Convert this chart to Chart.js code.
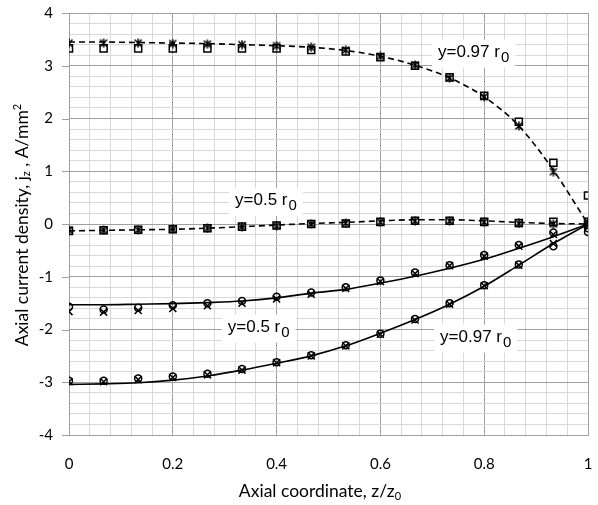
<!DOCTYPE html>
<html><head><meta charset="utf-8">
<script src="https://cdn.jsdelivr.net/npm/chart.js@4/dist/chart.umd.min.js"></script>
<style>html,body{margin:0;padding:0;background:#fff;}</style>
</head><body>
<canvas id="c" width="598" height="505"></canvas>
<script>
// ---------- data ----------
const zValues = [0, 0.0667, 0.1333, 0.2, 0.2667, 0.3333, 0.4, 0.4667, 0.5333, 0.6, 0.6667, 0.7333, 0.8, 0.8667, 0.9333, 1];

// y = 0.97 r0, upper (dashed) branch
const topCurve   = [3.45, 3.45, 3.44, 3.43, 3.42, 3.40, 3.38, 3.35, 3.29, 3.18, 3.01, 2.77, 2.41, 1.86, 1.02, 0.00];
const topSquares = [3.33, 3.33, 3.33, 3.33, 3.33, 3.33, 3.33, 3.30, 3.27, 3.16, 3.00, 2.78, 2.43, 1.94, 1.16, 0.54];
const topStars   = [3.43, 3.43, 3.43, 3.42, 3.41, 3.40, 3.38, 3.35, 3.30, 3.18, 3.01, 2.77, 2.41, 1.86, 0.99, 0.03];

// y = 0.5 r0, upper (dashed) branch
const midCurve   = [-0.13, -0.12, -0.11, -0.10, -0.08, -0.05, -0.02, 0.01, 0.03, 0.06, 0.08, 0.08, 0.06, 0.03, 0.01, 0.00];
const midSquares = [-0.13, -0.12, -0.11, -0.10, -0.08, -0.05, -0.03, 0.00, 0.01, 0.04, 0.06, 0.06, 0.04, 0.02, 0.04, 0.04];
const midStars   = [-0.12, -0.12, -0.11, -0.10, -0.08, -0.05, -0.03, 0.00, 0.02, 0.04, 0.06, 0.06, 0.04, 0.01, 0.00, 0.02];

// y = 0.5 r0, lower (solid) branch
const low05Curve   = [-1.53, -1.53, -1.52, -1.51, -1.49, -1.46, -1.40, -1.31, -1.24, -1.12, -0.99, -0.84, -0.67, -0.46, -0.24, 0.00];
const low05Circles = [-1.57, -1.62, -1.59, -1.54, -1.50, -1.46, -1.38, -1.30, -1.20, -1.07, -0.92, -0.78, -0.59, -0.40, -0.16, -0.08];
const low05Crosses = [-1.66, -1.67, -1.64, -1.60, -1.55, -1.50, -1.42, -1.33, -1.22, -1.09, -0.94, -0.79, -0.61, -0.42, -0.20, -0.03];

// y = 0.97 r0, lower (solid) branch
const low97Curve   = [-3.04, -3.03, -3.01, -2.96, -2.88, -2.77, -2.64, -2.50, -2.31, -2.07, -1.81, -1.52, -1.18, -0.78, -0.37, 0.00];
const low97Circles = [-2.97, -2.97, -2.93, -2.89, -2.84, -2.75, -2.62, -2.49, -2.30, -2.08, -1.80, -1.50, -1.16, -0.77, -0.42, -0.15];
const low97Crosses = [-2.99, -2.99, -2.95, -2.91, -2.86, -2.77, -2.63, -2.50, -2.31, -2.09, -1.82, -1.52, -1.17, -0.78, -0.37, -0.02];

const xTickLabels = ['0', '0.2', '0.4', '0.6', '0.8', '1'];
const yTickLabels = ['-4', '-3', '-2', '-1', '0', '1', '2', '3', '4'];

const curveLabels = [
  {x: 0.711, y: 3.17,  main: 'y=0.97 r', sub: '0'},
  {x: 0.320, y: 0.36,  main: 'y=0.5 r',  sub: '0'},
  {x: 0.306, y: -2.04, main: 'y=0.5 r',  sub: '0'},
  {x: 0.715, y: -2.23, main: 'y=0.97 r', sub: '0'}
];

// ---------- helpers ----------
function pts(ys) { return zValues.map((z, i) => ({x: z, y: ys[i]})); }

function makeStar() {
  const c = document.createElement('canvas');
  c.width = 10; c.height = 10;
  const g = c.getContext('2d');
  g.strokeStyle = '#000'; g.lineWidth = 1.5;
  g.beginPath();
  g.moveTo(1.5, 1.5); g.lineTo(8.5, 8.5);
  g.moveTo(8.5, 1.5); g.lineTo(1.5, 8.5);
  g.moveTo(5, 0.5); g.lineTo(5, 9.5);
  g.stroke();
  return c;
}
const starImg = makeStar();

function curve(ys, dashed) {
  return {data: pts(ys), borderColor: '#000', borderWidth: 1.6, borderDash: dashed ? [6, 4] : [],
          pointRadius: 0, cubicInterpolationMode: 'monotone', fill: false, showLine: true, order: 2};
}
function markers(ys, style, r) {
  return {data: pts(ys), showLine: false, pointStyle: style, pointRadius: r,
          pointBorderColor: '#000', pointBackgroundColor: 'rgba(0,0,0,0)', pointBorderWidth: 1.5, order: 1};
}

const isInt = v => Math.abs(v - Math.round(v)) < 1e-6;
const isFifth = v => Math.abs(v * 5 - Math.round(v * 5)) < 1e-6;

const MAJOR = '#a0a0a0', MINOR = '#d9d9d9';
const TICK_FONT = {family: 'Lato', size: 15};

function drawRuns(ctx, runs, x, y) {
  let total = 0;
  runs.forEach(r => { ctx.font = r.size + 'px ' + r.family; r.w = ctx.measureText(r.t).width; total += r.w; });
  let cx = x - total / 2;
  runs.forEach(r => { ctx.font = r.size + 'px ' + r.family; ctx.fillText(r.t, cx, y + (r.dy || 0)); cx += r.w; });
}

const textPlugin = {
  id: 'texts',
  afterDraw(chart) {
    const ctx = chart.ctx, xs = chart.scales.x, ys = chart.scales.y;
    ctx.save();
    // y tick marks at integer values
    ctx.strokeStyle = MAJOR; ctx.lineWidth = 1;
    ys.ticks.forEach(t => {
      if (!isInt(t.value)) return;
      const py = Math.round(ys.getPixelForValue(t.value)) + 0.5;
      ctx.beginPath(); ctx.moveTo(xs.left - 7, py); ctx.lineTo(xs.left, py); ctx.stroke();
    });
    // curve labels with white boxes
    curveLabels.forEach(l => {
      const px = xs.getPixelForValue(l.x), py = ys.getPixelForValue(l.y);
      ctx.font = '17px "Liberation Sans"';
      const w1 = ctx.measureText(l.main).width;
      ctx.font = '15px "Liberation Sans"';
      const w2 = ctx.measureText(l.sub).width;
      ctx.fillStyle = '#fff';
      ctx.fillRect(px - 6, py - 17, w1 + w2 + 13, 28);
      ctx.fillStyle = '#000';
      ctx.textBaseline = 'alphabetic';
      ctx.font = '17px "Liberation Sans"';
      ctx.fillText(l.main, px, py);
      ctx.font = '15px "Liberation Sans"';
      ctx.fillText(l.sub, px + w1 + 1, py + 5);
    });
    // x axis title
    ctx.fillStyle = '#000';
    ctx.textBaseline = 'alphabetic';
    drawRuns(ctx, [
      {t: 'Axial coordinate, z/z', size: 17.5, family: 'Lato'},
      {t: '0', size: 11, family: 'Lato', dy: 3}
    ], 320, 497);
    // y axis title
    ctx.translate(22, 225);
    ctx.rotate(-Math.PI / 2);
    ctx.textBaseline = 'middle';
    drawRuns(ctx, [
      {t: 'Axial current density, j', size: 17.5, family: 'Lato'},
      {t: 'z', size: 11, family: 'Lato', dy: 4},
      {t: ' , A/mm', size: 17.5, family: 'Lato'},
      {t: '2', size: 11, family: 'Lato', dy: -5}
    ], 0, 0);
    ctx.restore();
  }
};

new Chart(document.getElementById('c'), {
  type: 'scatter',
  data: {
    datasets: [
      markers(topSquares, 'rect', 5),
      markers(topStars, starImg, 5),
      markers(midSquares, 'rect', 5),
      markers(midStars, starImg, 5),
      markers(low05Circles, 'circle', 3.5),
      markers(low05Crosses, 'crossRot', 5),
      markers(low97Circles, 'circle', 3.5),
      markers(low97Crosses, 'crossRot', 5),
      curve(topCurve, true),
      curve(midCurve, true),
      curve(low05Curve, false),
      curve(low97Curve, false)
    ]
  },
  options: {
    responsive: false,
    animation: false,
    devicePixelRatio: 1,
    layout: {padding: {left: 0, right: 10, top: 13, bottom: 0}},
    plugins: {legend: {display: false}, tooltip: {enabled: false}},
    scales: {
      x: {
        type: 'linear', min: 0, max: 1,
        afterFit(s) { s.height = 70; },
        ticks: {
          stepSize: 0.04, autoSkip: false, maxRotation: 0, padding: 0,
          color: '#000', font: TICK_FONT,
          callback(v) {
            if (!isFifth(v)) return '';
            return xTickLabels[Math.round(v * 5)];
          }
        },
        grid: {drawTicks: true, tickLength: 20, tickColor: 'rgba(0,0,0,0)',
               color: c => isFifth(c.tick.value) ? MAJOR : MINOR, lineWidth: 1},
        border: {color: MAJOR, width: 1}
      },
      y: {
        min: -4, max: 4,
        afterFit(s) { s.width = 69; },
        ticks: {
          stepSize: 0.2, autoSkip: false, padding: 0,
          color: '#000', font: TICK_FONT,
          callback(v) {
            if (!isInt(v)) return '';
            return yTickLabels[Math.round(v) + 4];
          }
        },
        grid: {
          drawTicks: true, tickLength: 16, tickColor: 'rgba(0,0,0,0)',
          color: c => isInt(c.tick.value) ? MAJOR : MINOR,
          lineWidth: 1
        },
        border: {color: MAJOR, width: 1}
      }
    }
  },
  plugins: [textPlugin]
});
</script>
</body></html>
